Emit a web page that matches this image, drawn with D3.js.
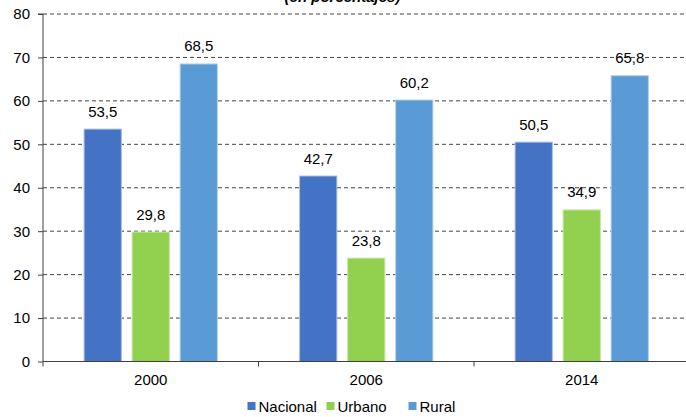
<!DOCTYPE html>
<html><head><meta charset="utf-8">
<script src="https://cdn.jsdelivr.net/npm/d3@7"></script>
<style>
html,body{margin:0;padding:0;background:#fff;}
text{font-family:"Liberation Sans",Arial,sans-serif;fill:#000;}
</style></head>
<body><svg id="c" width="686" height="417"></svg>
<script>
const categories = ["2000","2006","2014"];
const seriesNames = ["Nacional","Urbano","Rural"];
const nacional = [53.5, 42.7, 50.5];
const urbano = [29.8, 23.8, 34.9];
const rural = [68.5, 60.2, 65.8];
const yTicks = [0,10,20,30,40,50,60,70,80];
const colors = ["#4472C4","#92D050","#5B9BD5"];
const strokes = ["#aabde6","#c6e8a4","#b3d1ee"];
const series = [nacional, urbano, rural];

const svg = d3.select("#c");
const L = 43, R = 689.5, T = 14, B = 361.5;
const x = d3.scaleBand().domain(categories).range([L, R]).padding(0);
const y = d3.scaleLinear().domain([0,80]).range([B, T]);
const barW = x.bandwidth()*0.173;
const step = x.bandwidth()*0.2228;
const inner = d3.scaleBand().domain(seriesNames)
  .range([x.bandwidth()/2 - step*1.5, x.bandwidth()/2 + step*1.5]).padding(0);

// title (cut off)
svg.append("text").attr("x",342.5).attr("y",1.5).attr("text-anchor","middle")
  .style("font-size","15px").style("font-weight","bold").style("font-style","italic")
  .text("(en porcentajes)");

// gridlines
svg.append("g").selectAll("line").data(yTicks.filter(d=>d>0)).join("line")
  .attr("x1",L).attr("x2",686).attr("y1",d=>y(d)).attr("y2",d=>y(d))
  .attr("stroke","#444").attr("stroke-width",1).attr("stroke-dasharray","4,3");

// bars
series.forEach((vals,si)=>{
  const g = svg.append("g");
  g.selectAll("rect").data(vals).join("rect")
    .attr("x",(d,i)=>x(categories[i]) + inner(seriesNames[si]) + (step-barW)/2)
    .attr("y",d=>y(d)).attr("width",barW).attr("height",d=>B-y(d))
    .attr("fill",colors[si]).attr("stroke",strokes[si]).attr("stroke-width",1);
  g.selectAll("text").data(vals).join("text")
    .attr("x",(d,i)=>x(categories[i]) + inner(seriesNames[si]) + step/2)
    .attr("y",d=>y(d)-12.5).attr("text-anchor","middle")
    .style("font-size","15px")
    .text(d=>d.toFixed(1).replace(".",","));
});

// y axis
const ya = svg.append("g").attr("transform",`translate(${L},0)`)
  .call(d3.axisLeft(y).tickValues(yTicks).tickSize(5).tickPadding(8).tickFormat(d3.format("d")));
ya.select(".domain").attr("stroke","#404040").attr("d",`M-5,${T}H0V${B}`);
ya.selectAll(".tick line").attr("stroke","#404040");
ya.selectAll(".tick text").style("font-size","15px").attr("fill","#000")
  .style("font-family","'Liberation Sans',Arial,sans-serif");

// x axis
const xa = svg.append("g").attr("transform",`translate(0,${B})`)
  .call(d3.axisBottom(x).tickSize(0).tickPadding(13));
xa.select(".domain").attr("stroke","#404040").attr("d",`M${L},0H686`);
xa.selectAll(".tick text").style("font-size","15px").attr("fill","#000")
  .style("font-family","'Liberation Sans',Arial,sans-serif");
svg.append("g").selectAll("line").data(categories).join("line")
  .attr("x1",d=>x(d)).attr("x2",d=>x(d)).attr("y1",B).attr("y2",B+5)
  .attr("stroke","#404040");

// legend
const legX = [247.5, 326.5, 408.5];
const lg = svg.append("g");
seriesNames.forEach((n,i)=>{
  lg.append("rect").attr("x",legX[i]).attr("y",402).attr("width",8).attr("height",8).attr("fill",colors[i]);
  lg.append("text").attr("x",legX[i]+11).attr("y",411.5).style("font-size","15px").text(n);
});
</script></body></html>
